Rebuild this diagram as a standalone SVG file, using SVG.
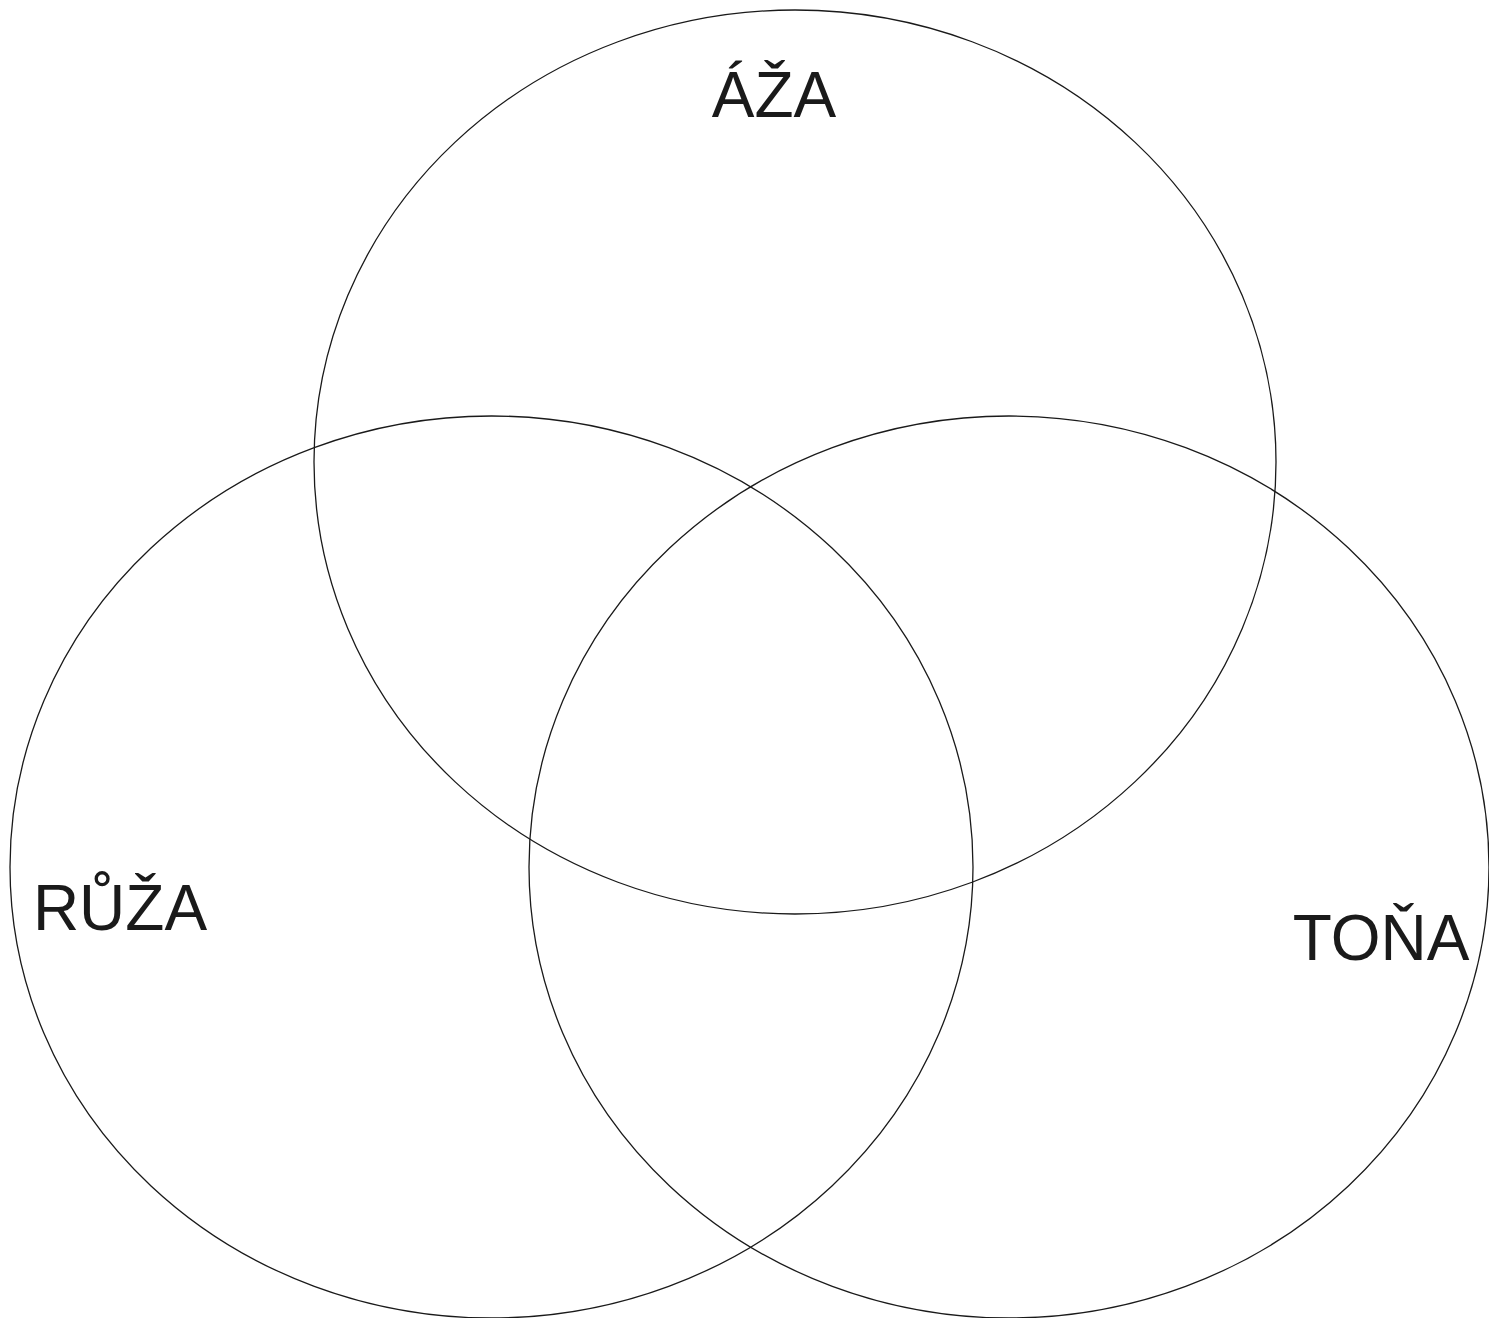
<svg xmlns="http://www.w3.org/2000/svg" width="1489" height="1318" viewBox="0 0 1489 1318">
<style>
.c{fill:none;stroke:#1a1a1a;stroke-width:1.3}
.t{font-family:"Liberation Sans",Arial,sans-serif;font-size:64px;fill:#1a1a1a}
</style>
<rect width="1489" height="1318" fill="#fff"/>
<g id="set-aza"><ellipse class="c" cx="795" cy="462" rx="481" ry="452"/><text class="t" x="774" y="117" text-anchor="middle">ÁŽA</text></g>
<g id="set-ruza"><ellipse class="c" cx="491.5" cy="867" rx="481.5" ry="451"/><text class="t" x="120" y="930" text-anchor="middle">RŮŽA</text></g>
<g id="set-tona"><ellipse class="c" cx="1009" cy="867" rx="480" ry="451"/><text class="t" x="1381" y="960" text-anchor="middle">TOŇA</text></g>
<g id="connectors"/>
</svg>
